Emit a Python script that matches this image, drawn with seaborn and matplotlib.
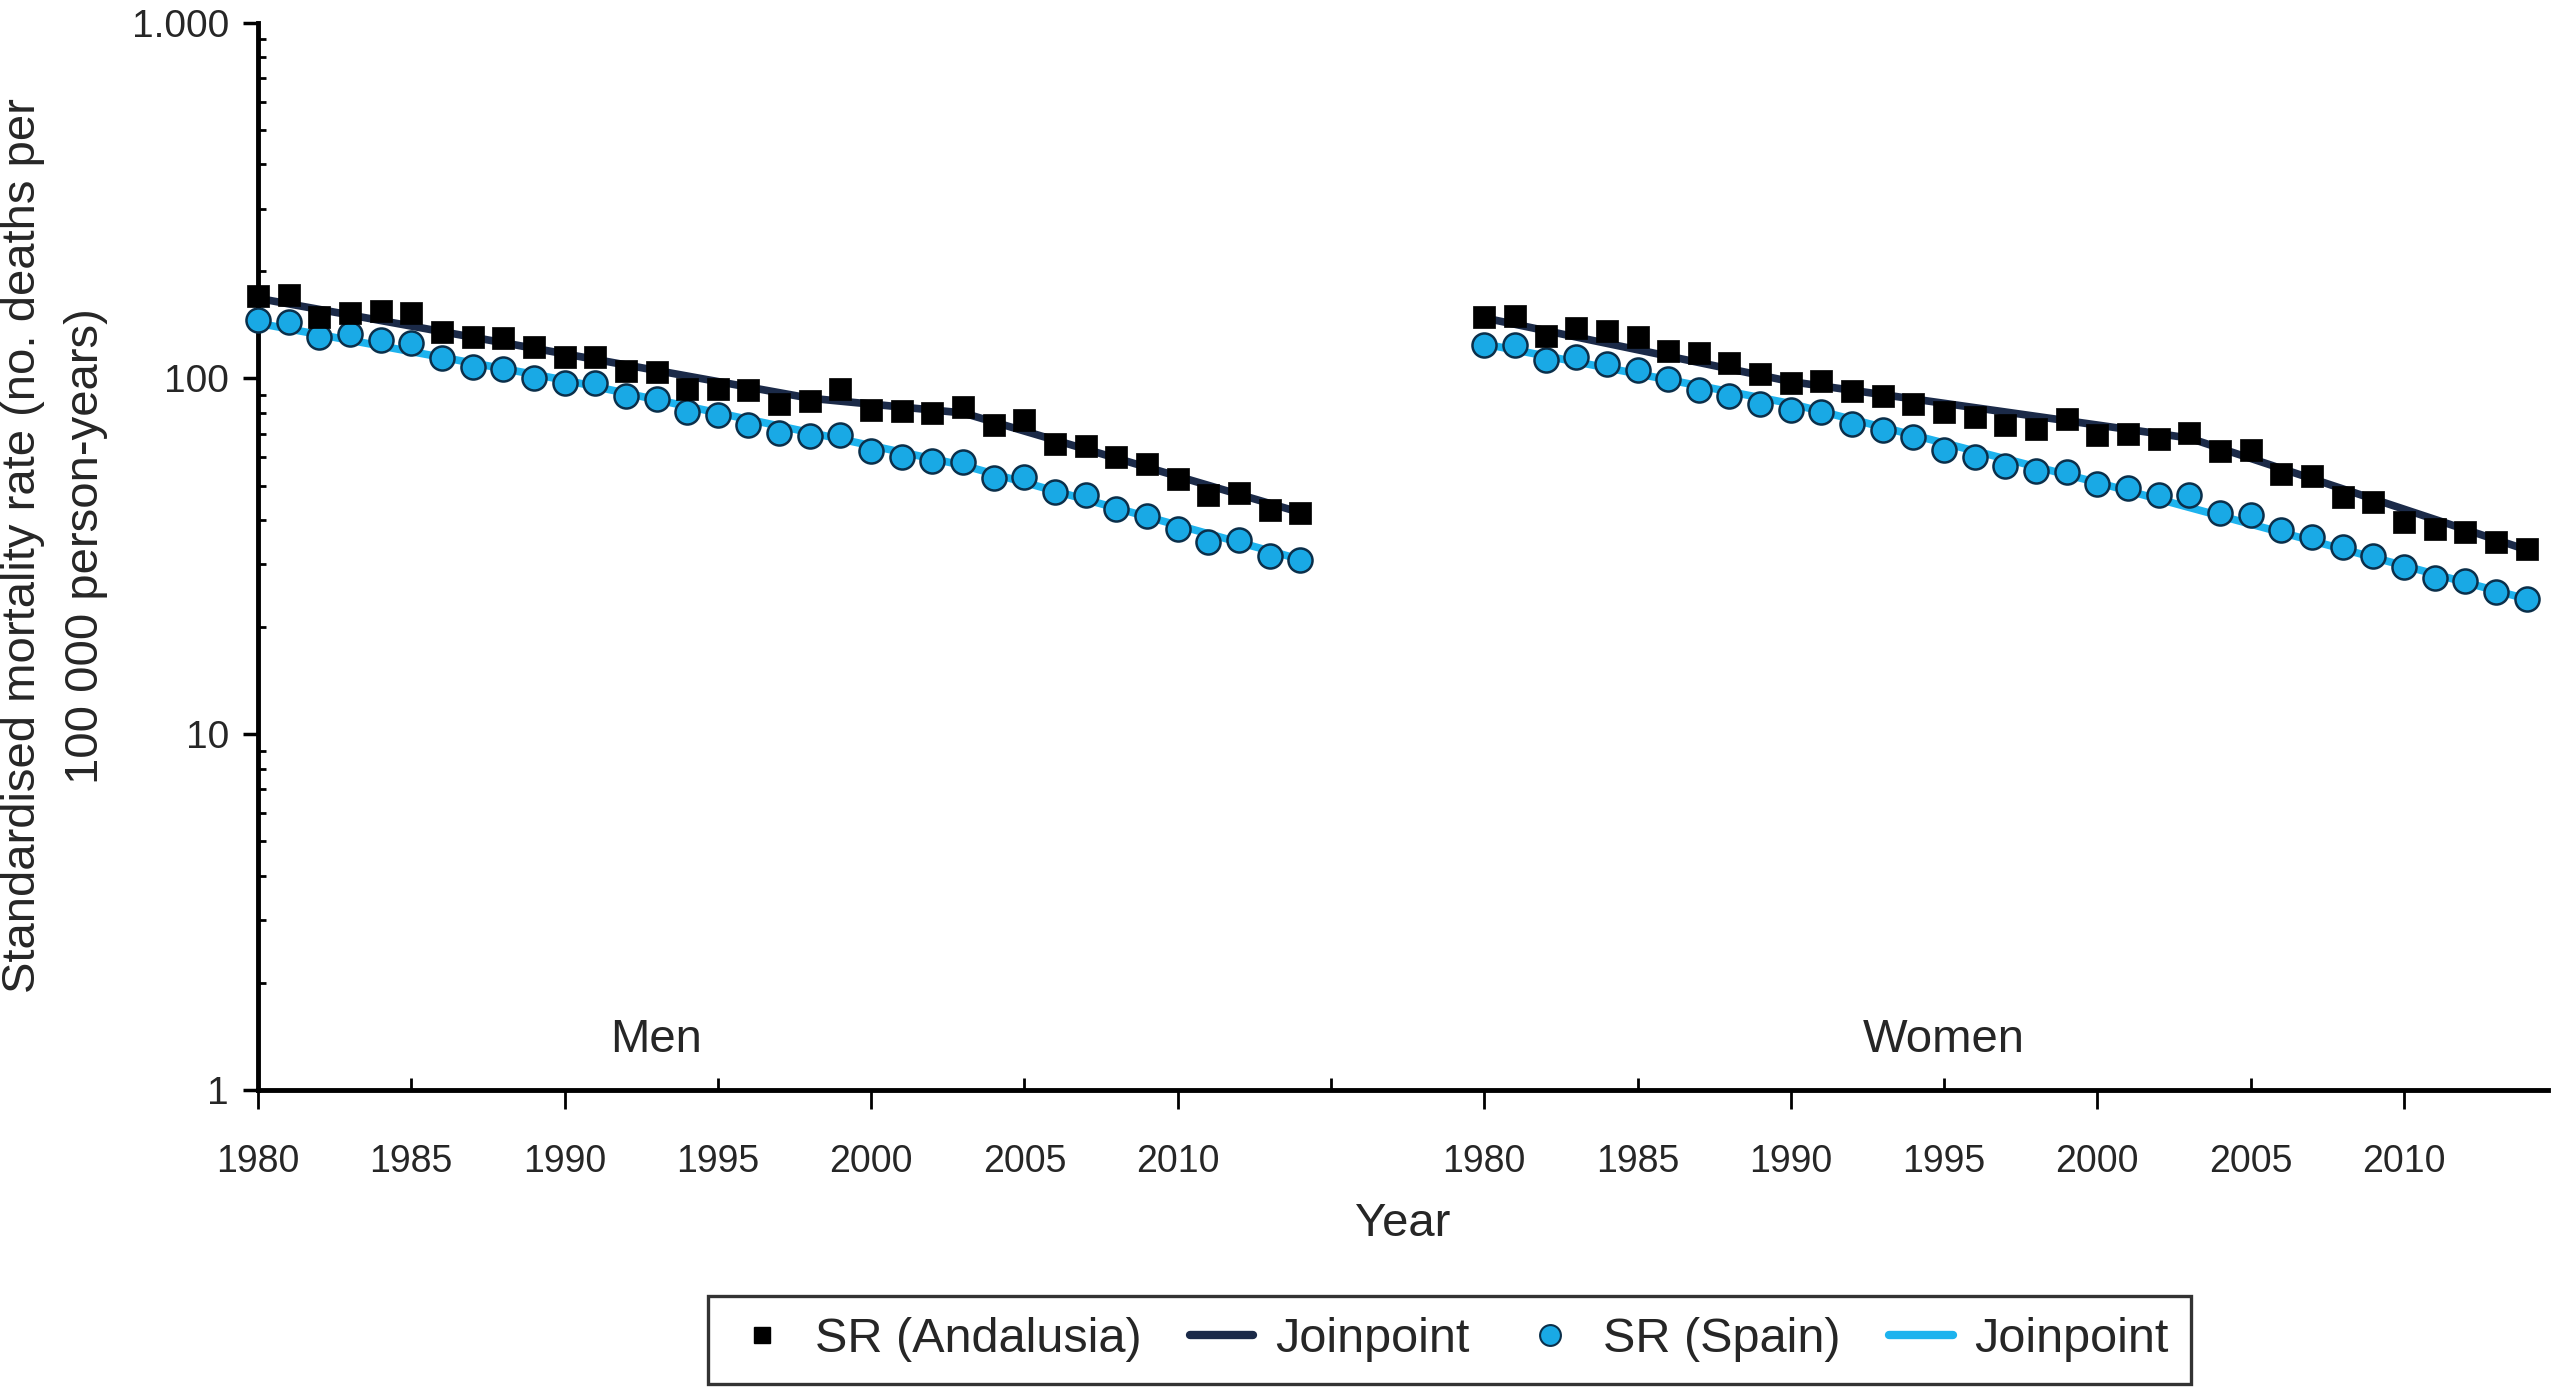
import numpy as np
import pandas as pd
import matplotlib
matplotlib.use("Agg")
import matplotlib.pyplot as plt
import seaborn as sns
from matplotlib.lines import Line2D
from matplotlib.ticker import FixedLocator, LogLocator, NullFormatter

# ---------------- data ----------------
years = list(range(1980, 2015))

men_andalusia = [170.4, 171.6, 148.5, 152.4, 155.0, 152.4, 135.3, 130.9, 129.6, 122.7,
                 115.0, 115.0, 105.0, 104.4, 93.7, 93.7, 93.1, 84.5, 86.5, 93.7,
                 81.4, 81.0, 80.0, 83.2, 73.9, 76.3, 65.6, 64.5, 60.2, 57.6,
                 52.3, 46.9, 47.6, 42.8, 41.8]
men_spain = [145.9, 144.3, 130.4, 133.3, 128.2, 125.4, 114.3, 107.4, 106.0, 100.6,
             96.8, 97.2, 89.2, 87.3, 80.5, 78.8, 73.9, 70.3, 68.8, 69.3,
             62.6, 60.2, 58.6, 58.3, 52.6, 52.9, 48.0, 46.9, 43.1, 41.0,
             37.8, 34.7, 35.1, 31.6, 30.8]
women_andalusia = [148.5, 149.7, 131.5, 138.3, 136.1, 130.4, 119.6, 118.0, 110.6, 102.8,
                   96.8, 98.5, 92.3, 89.2, 84.7, 80.5, 77.7, 74.2, 72.3, 76.7,
                   69.3, 69.7, 67.8, 70.3, 62.6, 62.9, 54.0, 53.1, 46.4, 44.9,
                   39.5, 37.8, 37.0, 34.7, 33.2]
women_spain = [124.1, 124.1, 112.6, 114.6, 109.7, 105.5, 99.4, 92.7, 89.2, 85.0,
               81.4, 80.5, 74.4, 71.5, 68.5, 62.9, 60.2, 56.7, 54.9, 54.6,
               50.6, 49.3, 46.9, 46.9, 41.8, 41.2, 37.4, 35.8, 33.6, 31.6,
               29.5, 27.4, 27.0, 25.1, 24.0]

# joinpoint fitted segments (knot years and fitted rates)
jp_men_andalusia_years = [1980, 1998, 2003, 2014]
jp_men_andalusia_vals = [168, 88, 80, 42]
jp_men_spain_years = [1980, 1990, 2003, 2014]
jp_men_spain_vals = [143, 99, 57, 31]
jp_women_andalusia_years = [1980, 1990, 2003, 2014]
jp_women_andalusia_vals = [148, 98, 68, 33]
jp_women_spain_years = [1980, 1990, 2000, 2014]
jp_women_spain_vals = [125, 85, 51, 24]

sexes = ["Men", "Women"]
tick_years_major = [1980, 1990, 2000, 2010]
tick_years_minor = [1985, 1995, 2005]

# ---------------- layout constants ----------------
WOMEN_OFFSET = 40  # women's panel starts where 2020 would be on a continuous axis

SQ_COLOR = "black"
DARK_LINE = "#1b2a48"
CIRCLE_FILL = "#19a9e5"
CIRCLE_EDGE = "#0b2f4a"
LIGHT_LINE = "#1db3ee"

sns.set_style("ticks")
plt.rcParams['font.family'] = ['Liberation Sans', 'DejaVu Sans']

fig = plt.figure(figsize=(25.64, 13.92), dpi=100)
ax = fig.add_axes([258 / 2564, 1 - 1090 / 1392, (2548 - 258) / 2564, (1090 - 22.7) / 1392])

offsets = {"Men": 0, "Women": WOMEN_OFFSET}
obs = {
    ("Men", "Andalusia"): men_andalusia, ("Men", "Spain"): men_spain,
    ("Women", "Andalusia"): women_andalusia, ("Women", "Spain"): women_spain,
}
jps = {
    ("Men", "Andalusia"): (jp_men_andalusia_years, jp_men_andalusia_vals),
    ("Men", "Spain"): (jp_men_spain_years, jp_men_spain_vals),
    ("Women", "Andalusia"): (jp_women_andalusia_years, jp_women_andalusia_vals),
    ("Women", "Spain"): (jp_women_spain_years, jp_women_spain_vals),
}

for sex in sexes:
    off = offsets[sex]
    # Spain joinpoint + points
    jy, jv = jps[(sex, "Spain")]
    dfj = pd.DataFrame({"x": np.array(jy) + off, "rate": jv})
    sns.lineplot(data=dfj, x="x", y="rate", color=LIGHT_LINE, linewidth=5.5,
                 ax=ax, zorder=3, solid_capstyle="round")
    dfo = pd.DataFrame({"x": np.array(years) + off, "rate": obs[(sex, "Spain")]})
    sns.scatterplot(data=dfo, x="x", y="rate", marker="o", s=300, color=CIRCLE_FILL,
                    edgecolor=CIRCLE_EDGE, linewidth=1.8, ax=ax, zorder=4, clip_on=False)
    # Andalusia joinpoint + points
    jy, jv = jps[(sex, "Andalusia")]
    dfj = pd.DataFrame({"x": np.array(jy) + off, "rate": jv})
    sns.lineplot(data=dfj, x="x", y="rate", color=DARK_LINE, linewidth=5.5,
                 ax=ax, zorder=5, solid_capstyle="round")
    dfo = pd.DataFrame({"x": np.array(years) + off, "rate": obs[(sex, "Andalusia")]})
    sns.scatterplot(data=dfo, x="x", y="rate", marker="s", s=260, color=SQ_COLOR,
                    edgecolor=SQ_COLOR, linewidth=0.5, ax=ax, zorder=6, clip_on=False)

# ---------------- axes ----------------
ax.set_yscale("log")
ax.set_ylim(1, 1000)
ax.set_xlim(1980, 2054.7)

ax.yaxis.set_major_locator(FixedLocator([1, 10, 100, 1000]))
ax.set_yticklabels(["1", "10", "100", "1.000"])
ax.yaxis.set_minor_locator(LogLocator(base=10, subs=np.arange(2, 10)))
ax.yaxis.set_minor_formatter(NullFormatter())

maj_pos = [y + offsets[s] for s in sexes for y in tick_years_major]
maj_lab = [str(y) for s in sexes for y in tick_years_major]
min_pos = [y + offsets[s] for s in sexes for y in tick_years_minor] + [2015]
min_lab = [str(y) for s in sexes for y in tick_years_minor] + [""]
ax.set_xticks(maj_pos)
ax.set_xticklabels(maj_lab)
ax.set_xticks(min_pos, minor=True)
ax.set_xticklabels(min_lab, minor=True)

ax.tick_params(axis="y", which="major", direction="out", length=11, width=2.5,
               labelsize=28, pad=10, color="black")
ax.tick_params(axis="y", which="minor", direction="in", length=6, width=2, color="black")
ax.tick_params(axis="x", which="major", direction="out", length=14, width=2,
               labelsize=27, pad=25, color="black")
ax.tick_params(axis="x", which="minor", direction="in", length=9, width=2,
               labelsize=27, pad=39, color="black")

for side in ["top", "right"]:
    ax.spines[side].set_visible(False)
for side in ["left", "bottom"]:
    ax.spines[side].set_linewidth(3.5)
    ax.spines[side].set_color("black")

ax.set_xlabel("Year", fontsize=34, labelpad=16)
ax.set_ylabel("Standardised mortality rate (no. deaths per\n100 000 person-years)",
              fontsize=34, linespacing=1.55)
ax.yaxis.set_label_coords(-0.0655, 0.51)

ax.text(1993, 1.38, "Men", ha="center", va="center", fontsize=34)
ax.text(1995 + WOMEN_OFFSET, 1.38, "Women", ha="center", va="center", fontsize=34)

handles = [
    Line2D([], [], marker="s", color=SQ_COLOR, linestyle="none", markersize=12),
    Line2D([], [], color=DARK_LINE, lw=6, solid_capstyle="round"),
    Line2D([], [], marker="o", markerfacecolor=CIRCLE_FILL, markeredgecolor=CIRCLE_EDGE,
           markeredgewidth=1.5, linestyle="none", markersize=15),
    Line2D([], [], color=LIGHT_LINE, lw=6, solid_capstyle="round"),
]
labels = ["SR (Andalusia)", "Joinpoint", "SR (Spain)", "Joinpoint"]
leg = fig.legend(handles, labels, loc="center", bbox_to_anchor=(0.5653, 0.0374), ncol=4,
                 frameon=True, fancybox=False, edgecolor="black", fontsize=35,
                 handlelength=1.3, handletextpad=0.45, columnspacing=1.0, borderpad=0.45)
leg.get_frame().set_linewidth(2.4)

fig.savefig("out.png", dpi=100)
